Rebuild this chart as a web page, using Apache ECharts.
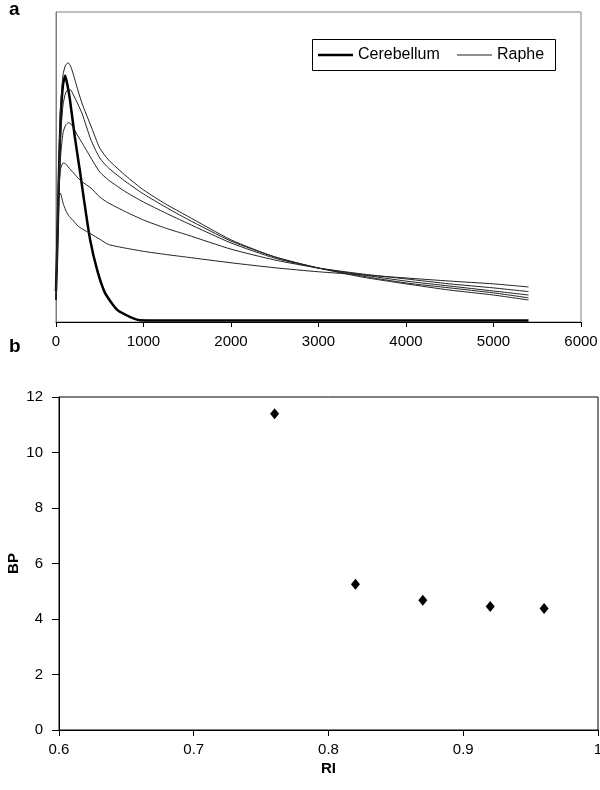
<!DOCTYPE html>
<html>
<head>
<meta charset="utf-8">
<script src="https://cdn.jsdelivr.net/npm/echarts@6/dist/echarts.min.js"></script>
<style>
  html, body { margin: 0; padding: 0; background: #fff; }
  #chart { width: 600px; height: 790px; }
</style>
</head>
<body>
<div id="chart"></div>
<script>
// panel a: time activity curves (arbitrary units, y axis has no labels)
const cbTime = [0, 15, 35, 55, 80, 105, 130, 160, 215, 275, 320, 390, 470, 560, 700, 850, 960, 1500, 2500, 3500, 4500, 5400]
const cerebellum = [10, 24.8, 49, 66.8, 76.5, 79.4, 76.5, 71.6, 59.7, 48.4, 39.4, 26.5, 16.8, 9.4, 3.9, 1.6, 0.6, 0.5, 0.5, 0.5, 0.5, 0.5]

const rapheTime = [0, 25, 50, 80, 110, 140, 170, 200, 250, 300, 400, 500, 600, 800, 1000, 1250, 1500, 2000, 2500, 3000, 3500, 4000, 4500, 5000, 5400]
const raphe1 = [7.1, 42.6, 68.4, 79.7, 82.9, 83.6, 82.3, 79.7, 74.8, 70.3, 63.2, 56.1, 52.3, 47.1, 42.6, 38.1, 34.2, 26.5, 21, 17.4, 14.5, 12.3, 10.3, 8.7, 7.1]
const raphe2 = [7.1, 34.5, 58.7, 70, 73.9, 75, 74.8, 73.2, 70.3, 67.1, 58.7, 52.9, 49.7, 45.2, 41.3, 37.1, 33.2, 26.1, 21, 17.4, 14.8, 12.6, 11, 9.4, 7.8]
const raphe3 = [7.1, 31.3, 52.3, 61, 63.5, 64.3, 63.9, 62.6, 60, 57.7, 52.9, 48.4, 45.8, 41.9, 38.7, 35.2, 31.9, 25.5, 20.6, 17.4, 15.2, 13.2, 11.6, 10, 8.7]
const raphe4 = [7.1, 39.4, 49, 51.3, 51, 50, 49, 48.1, 46.5, 45.2, 43.2, 40.3, 38.4, 35.5, 32.9, 30.3, 28.1, 23.5, 20, 17.4, 15.5, 13.9, 12.3, 11, 9.8]
const raphe5 = [7.1, 39.4, 41.6, 38.4, 36.1, 34.5, 33.5, 32.6, 31, 30, 28.4, 26.7, 25.0, 23.8, 22.8, 21.8, 20.9, 19.1, 17.5, 16.2, 15.2, 14.2, 13.2, 12.3, 11.3]

// panel b: BP against RI
const riValues = [0.76, 0.82, 0.87, 0.92, 0.96]
const bpValues = [11.4, 5.25, 4.68, 4.45, 4.38]

const font = 'Liberation Sans, Arial, sans-serif'

const zip = (xs, ys) => xs.map((x, i) => [x, ys[i]])

const chart = echarts.init(document.getElementById('chart'))

const rapheSeries = [raphe1, raphe2, raphe3, raphe4, raphe5].map(values => ({
  name: 'Raphe',
  type: 'line',
  xAxisIndex: 0,
  yAxisIndex: 0,
  data: zip(rapheTime, values),
  smooth: 0.2,
  showSymbol: false,
  lineStyle: { color: '#222', width: 1 },
  itemStyle: { color: '#222' },
  silent: true
}))

const legendBase = {
  top: 47,
  icon: 'rect',
  itemWidth: 35,
  itemGap: 0,
  padding: 0,
  textStyle: { fontFamily: font, fontSize: 16, color: '#000' },
  selectedMode: false
}

const option = {
  animation: false,
  backgroundColor: '#fff',
  textStyle: { fontFamily: font },
  grid: [
    { left: 56, top: 12, right: 19, bottom: 468, show: true, borderColor: '#808080', borderWidth: 1, outerBoundsMode: 'none', containLabel: false },
    { left: 59, top: 397, right: 2, bottom: 60, show: true, borderColor: '#000', borderWidth: 1, outerBoundsMode: 'none', containLabel: false }
  ],
  legend: [
    Object.assign({}, legendBase, { left: 318, itemHeight: 2.5, data: ['Cerebellum'] }),
    Object.assign({}, legendBase, { left: 457, itemHeight: 1, data: ['Raphe'] })
  ],
  graphic: [
    { type: 'rect', shape: { x: 312.5, y: 39.5, width: 243, height: 31 }, style: { fill: 'none', stroke: '#000', lineWidth: 1 }, silent: true },
    { type: 'text', left: 9, top: 0, style: { text: 'a', font: 'bold 19px ' + font, fill: '#000' } },
    { type: 'text', left: 9, top: 337, style: { text: 'b', font: 'bold 19px ' + font, fill: '#000' } }
  ],
  xAxis: [
    {
      gridIndex: 0,
      type: 'value',
      min: 0,
      max: 6000,
      interval: 1000,
      axisLine: { lineStyle: { color: '#000', width: 1 } },
      axisTick: { length: 5, lineStyle: { color: '#000' } },
      axisLabel: { color: '#000', fontSize: 15, margin: 12, formatter: v => String(v) },
      splitLine: { show: false }
    },
    {
      gridIndex: 1,
      type: 'value',
      min: 0.6,
      max: 1,
      interval: 0.1,
      name: 'RI',
      nameLocation: 'middle',
      nameGap: 31,
      nameMoveOverlap: false,
      nameTextStyle: { fontWeight: 'bold', fontSize: 15, color: '#000' },
      axisLine: { lineStyle: { color: '#000', width: 1 } },
      axisTick: { length: 6, lineStyle: { color: '#000' } },
      axisLabel: { color: '#000', fontSize: 15, margin: 12 },
      splitLine: { show: false }
    }
  ],
  yAxis: [
    {
      gridIndex: 0,
      type: 'value',
      min: 0,
      max: 100,
      axisLine: { show: true, lineStyle: { color: '#808080' } },
      axisTick: { show: false },
      axisLabel: { show: false },
      splitLine: { show: false }
    },
    {
      gridIndex: 1,
      type: 'value',
      min: 0,
      max: 12,
      interval: 2,
      name: 'BP',
      nameLocation: 'middle',
      nameRotate: 90,
      nameGap: 38,
      nameMoveOverlap: false,
      nameTextStyle: { fontWeight: 'bold', fontSize: 15, color: '#000' },
      axisLine: { show: true, lineStyle: { color: '#000', width: 1 } },
      axisTick: { show: true, length: 7, lineStyle: { color: '#000' } },
      axisLabel: { color: '#000', fontSize: 15, margin: 16 },
      splitLine: { show: false }
    }
  ],
  series: [
    {
      name: 'Cerebellum',
      type: 'line',
      xAxisIndex: 0,
      yAxisIndex: 0,
      data: zip(cbTime, cerebellum),
      smooth: 0.2,
      showSymbol: false,
      lineStyle: { color: '#000', width: 2.5 },
      itemStyle: { color: '#000' },
      silent: true,
      z: 3
    },
    ...rapheSeries,
    {
      name: 'BP',
      type: 'scatter',
      xAxisIndex: 1,
      yAxisIndex: 1,
      data: zip(riValues, bpValues),
      symbol: 'diamond',
      symbolSize: [9, 11],
      itemStyle: { color: '#000', opacity: 1 },
      silent: true
    }
  ]
}

chart.setOption(option)

window.addEventListener('resize', () => {
  chart.resize()
})
</script>
</body>
</html>
